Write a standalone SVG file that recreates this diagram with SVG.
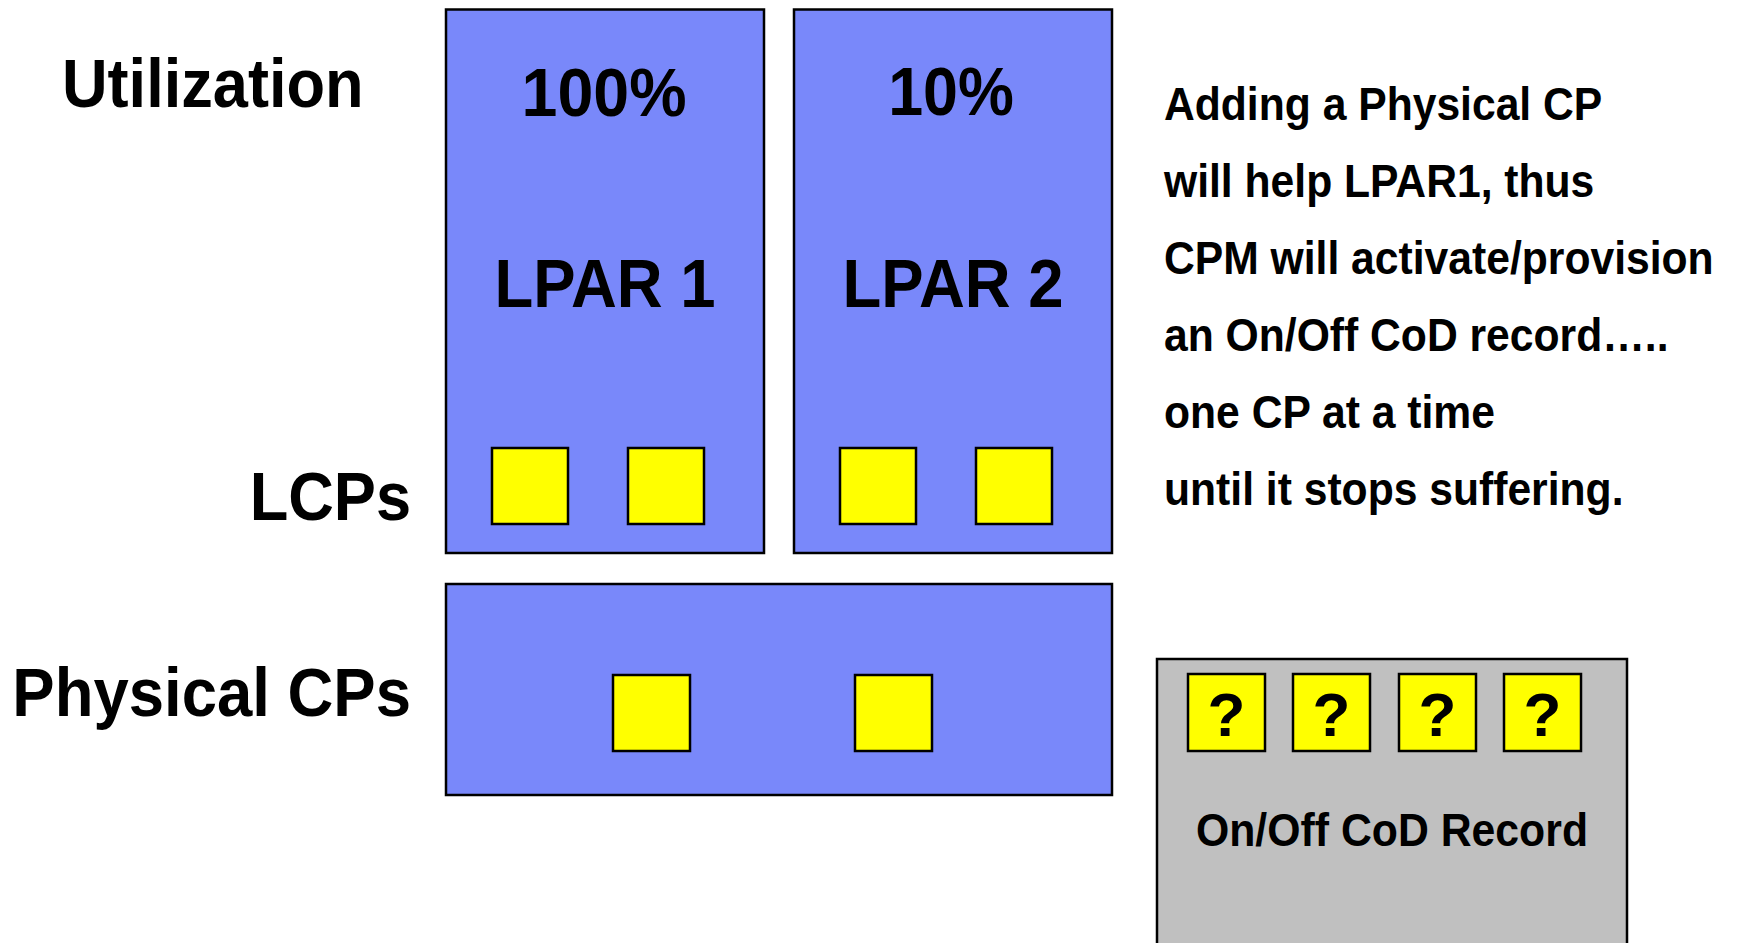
<svg xmlns="http://www.w3.org/2000/svg" width="1737" height="943" viewBox="0 0 1737 943">
<style>
.box{fill:#7988FA;stroke:#000;stroke-width:2.5}
.rec{fill:#C0C0C0;stroke:#000;stroke-width:2.5}
.cp{fill:#FFFF00;stroke:#000;stroke-width:2.5}
text{font-family:"Liberation Sans",Arial,sans-serif;font-weight:bold;fill:#000}
.big{font-size:69px}
.mid{font-size:46px}
.q{font-size:62px;text-anchor:middle}
</style>
<rect width="1737" height="943" fill="#fff"/>
<g id="labels">
  <g transform="translate(62,107) scale(0.915,1)"><text class="big" x="0" y="0">Utilization</text></g>
  <g transform="translate(411,520) scale(0.915,1)"><text class="big" x="0" y="0" text-anchor="end">LCPs</text></g>
  <g transform="translate(411,716) scale(0.92,1)"><text class="big" x="0" y="0" text-anchor="end">Physical CPs</text></g>
</g>
<g id="lpar1">
  <rect class="box" x="446" y="9.5" width="318" height="543.5"/>
  <g transform="translate(604,116) scale(0.935,1)"><text class="big" x="0" y="0" text-anchor="middle">100%</text></g>
  <g transform="translate(605,307) scale(0.92,1)"><text class="big" x="0" y="0" text-anchor="middle">LPAR 1</text></g>
  <rect class="cp" x="492" y="448" width="76" height="76"/>
  <rect class="cp" x="628" y="448" width="76" height="76"/>
</g>
<g id="lpar2">
  <rect class="box" x="794" y="9.5" width="318" height="543.5"/>
  <g transform="translate(951,115) scale(0.91,1)"><text class="big" x="0" y="0" text-anchor="middle">10%</text></g>
  <g transform="translate(953,307) scale(0.92,1)"><text class="big" x="0" y="0" text-anchor="middle">LPAR 2</text></g>
  <rect class="cp" x="840" y="448" width="76" height="76"/>
  <rect class="cp" x="976" y="448" width="76" height="76"/>
</g>
<g id="physical">
  <rect class="box" x="446" y="584" width="666" height="211"/>
  <rect class="cp" x="613" y="675" width="77" height="76"/>
  <rect class="cp" x="855" y="675" width="77" height="76"/>
</g>
<g id="record">
  <rect class="rec" x="1157" y="659" width="470" height="300"/>
  <rect class="cp" x="1188" y="674" width="77" height="77"/>
  <rect class="cp" x="1293" y="674" width="77" height="77"/>
  <rect class="cp" x="1399" y="674" width="77" height="77"/>
  <rect class="cp" x="1504" y="674" width="77" height="77"/>
  <text class="q" x="1226.5" y="736">?</text>
  <text class="q" x="1331.5" y="736">?</text>
  <text class="q" x="1437.5" y="736">?</text>
  <text class="q" x="1542.5" y="736">?</text>
  <g transform="translate(1392,846) scale(0.93,1)"><text class="mid" x="0" y="0" text-anchor="middle">On/Off CoD Record</text></g>
</g>
<g id="note" transform="translate(1164,0) scale(0.927,1)">
  <text class="mid" x="0" y="120">Adding a Physical CP</text>
  <text class="mid" x="0" y="197">will help LPAR1, thus</text>
  <text class="mid" x="0" y="274">CPM will activate/provision</text>
  <text class="mid" x="0" y="351">an On/Off CoD record…..</text>
  <text class="mid" x="0" y="428">one CP at a time</text>
  <text class="mid" x="0" y="505">until it stops suffering.</text>
</g>
<g id="connectors"></g>
</svg>
